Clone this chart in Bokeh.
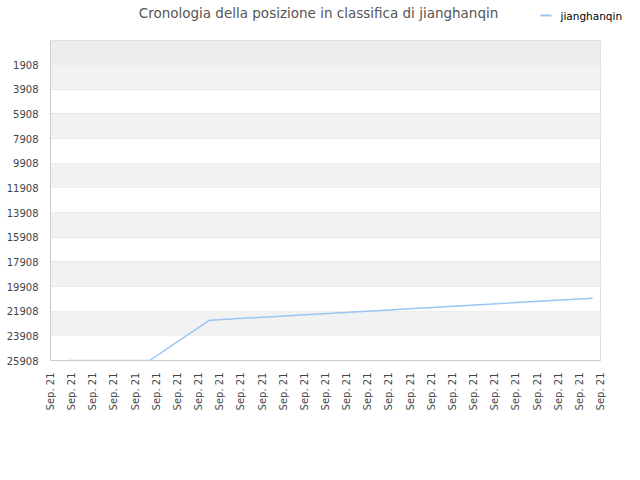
from bokeh.plotting import figure
from bokeh.models import Range1d, FixedTicker, BoxAnnotation
from bokeh.layouts import column
from bokeh.core.properties import value
from bokeh.embed import file_html
from bokeh.resources import INLINE
import math

# ---- data ----
tick_labels = ["Sep. 21"] * 27
tick_positions = list(range(27))
y_ticks = [1908, 3908, 5908, 7908, 9908, 11908, 13908, 15908, 17908, 19908, 21908, 23908, 25908]
series_name = "jianghanqin"
x_values = [0.85, 4.68, 7.52, 25.63]
rank_values = [25908, 25908, 22640, 20860]

title_text = "Cronologia della posizione in classifica di jianghanqin"
line_color = "#9ac6f4"

# ---- header (title + legend) ----
W = 624
HH = 36
head = figure(width=W, height=HH, output_backend="svg", toolbar_location=None,
              x_range=Range1d(0, W), y_range=Range1d(HH, 0),
              min_border_left=0, min_border_right=0, min_border_top=0, min_border_bottom=0,
              x_axis_location=None, y_axis_location=None)
head.frame_align = False
head.grid.visible = False
head.outline_line_color = None
head.background_fill_color = "white"
head.border_fill_color = "white"
head.text(x=[318], y=[12], text=[title_text], text_align="center", text_baseline="middle",
          text_font=value("DejaVu Sans"), text_font_size="13.5px", text_color="#555555")
head.line(x=[540, 551], y=[15, 15], line_color=line_color, line_width=2)
head.text(x=[560], y=[15], text=[series_name], text_align="left", text_baseline="middle",
          text_font=value("DejaVu Sans"), text_font_size="10.5px", text_color="#000000")

# ---- main chart ----
p = figure(width=W, height=428, output_backend="svg", toolbar_location=None,
           x_range=Range1d(0, 26), y_range=Range1d(25908, -38),
           min_border_left=50, min_border_right=24, min_border_top=4, min_border_bottom=104)
p.frame_align = False

p.background_fill_color = "white"
p.border_fill_color = "white"
p.outline_line_color = "#dddddd"
p.outline_line_width = 1

p.add_layout(BoxAnnotation(top=-38, bottom=y_ticks[0], fill_color="#ececec", fill_alpha=1,
                           line_color=None, level="underlay"))
for i in range(0, len(y_ticks) - 1, 2):
    p.add_layout(BoxAnnotation(top=y_ticks[i], bottom=y_ticks[i + 1], fill_color="#f2f2f2", fill_alpha=1,
                               line_color=None, level="underlay"))

p.xgrid.grid_line_color = None
p.ygrid.grid_line_color = "#e0e0e0"
p.ygrid.ticker = FixedTicker(ticks=y_ticks)

p.yaxis.ticker = FixedTicker(ticks=y_ticks)
p.xaxis.ticker = FixedTicker(ticks=tick_positions)
p.xaxis.major_label_overrides = {i: lab for i, lab in zip(tick_positions, tick_labels)}
p.xaxis.major_label_orientation = math.pi / 2

for ax in (p.xaxis, p.yaxis):
    ax.axis_line_color = "#cccccc"
    ax.major_tick_line_color = None
    ax.minor_tick_line_color = None
    ax.major_label_text_font = "DejaVu Sans"
    ax.major_label_text_font_size = "10px"
    ax.major_label_text_color = "#444444"
    ax.major_label_standoff = 6

p.line(x_values, rank_values, line_color=line_color, line_width=1.5)

layout = column(head, p, spacing=0)
open("out.html", "w").write(file_html(layout, INLINE))
